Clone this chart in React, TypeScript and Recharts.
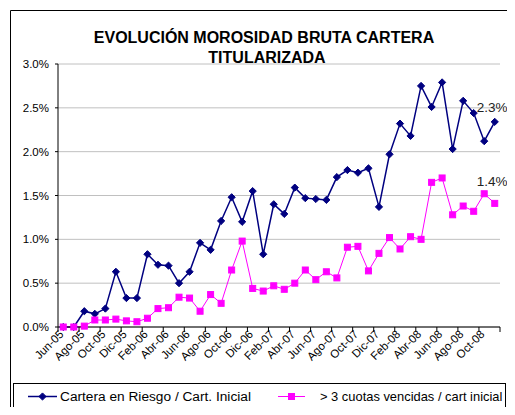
import React from 'react';
import { CartesianGrid, LabelList, Line, LineChart, XAxis, YAxis } from 'recharts';

const months = [
  'Jun-05', 'Jul-05', 'Ago-05', 'Sep-05', 'Oct-05', 'Nov-05', 'Dic-05',
  'Ene-06', 'Feb-06', 'Mar-06', 'Abr-06', 'May-06', 'Jun-06', 'Jul-06', 'Ago-06', 'Sep-06', 'Oct-06', 'Nov-06', 'Dic-06',
  'Ene-07', 'Feb-07', 'Mar-07', 'Abr-07', 'May-07', 'Jun-07', 'Jul-07', 'Ago-07', 'Sep-07', 'Oct-07', 'Nov-07', 'Dic-07',
  'Ene-08', 'Feb-08', 'Mar-08', 'Abr-08', 'May-08', 'Jun-08', 'Jul-08', 'Ago-08', 'Sep-08', 'Oct-08', 'Nov-08',
];

// Cartera en Riesgo / Cart. Inicial (%)
const carteraRiesgo = [
  0.0, 0.0, 0.18, 0.15, 0.21, 0.63, 0.33,
  0.33, 0.83, 0.71, 0.7, 0.5, 0.63, 0.96, 0.88, 1.21, 1.48, 1.2, 1.55,
  0.83, 1.4, 1.29, 1.59, 1.47, 1.46, 1.45, 1.71, 1.79, 1.76, 1.81, 1.37,
  1.97, 2.32, 2.18, 2.75, 2.51, 2.79, 2.03, 2.58, 2.44, 2.12, 2.34,
];

// > 3 cuotas vencidas / cart inicial (%)
const cuotasVencidas = [
  0.0, 0.0, 0.01, 0.08, 0.08, 0.09, 0.07,
  0.06, 0.1, 0.21, 0.22, 0.34, 0.33, 0.18, 0.37, 0.27, 0.65, 0.98, 0.44,
  0.41, 0.47, 0.43, 0.5, 0.65, 0.54, 0.63, 0.56, 0.91, 0.92, 0.64, 0.84,
  1.02, 0.89, 1.03, 1.0, 1.65, 1.7, 1.28, 1.38, 1.32, 1.52, 1.41,
];

const yTicks = [0, 0.5, 1, 1.5, 2, 2.5, 3];

const titleLines = ['EVOLUCIÓN MOROSIDAD BRUTA CARTERA', 'TITULARIZADA'];
const seriesNames = ['Cartera en Riesgo / Cart. Inicial', '> 3 cuotas vencidas / cart inicial'];

const data = months.map((m, i) => ({
  mes: m,
  riesgo: carteraRiesgo[i],
  vencidas: cuotasVencidas[i],
}));

const W = 499;
const H = 407;
const MARGIN = { top: 56, right: 7, bottom: 48, left: 0 };
const Y_AXIS_W = 50;
const PLOT_W = W - MARGIN.left - MARGIN.right - Y_AXIS_W;
const BAND = PLOT_W / months.length;

const FONT = 'Liberation Sans, Arial, sans-serif';
const BLUE = '#000080';
const PINK = '#FF00FF';

const Diamond = ({ cx, cy, r = 3.6 }: any) => (
  <polygon
    points={`${cx},${cy - r} ${cx + r},${cy} ${cx},${cy + r} ${cx - r},${cy}`}
    fill={BLUE}
    stroke={BLUE}
  />
);

const Square = ({ cx, cy, r = 3 }: any) => (
  <rect x={cx - r} y={cy - r} width={r * 2} height={r * 2} fill={PINK} stroke={PINK} />
);

const MonthTick = ({ x, y, payload }: any) => {
  const idx = months.indexOf(payload.value);
  const edge = x - BAND / 2;
  return (
    <g>
      <line x1={edge} x2={edge} y1={y} y2={y + 5} stroke="#000" />
      {idx === months.length - 2 && (
        <line x1={edge + BAND * 2} x2={edge + BAND * 2} y1={y} y2={y + 5} stroke="#000" />
      )}
      <text
        transform={`translate(${x + 1},${y + 8}) rotate(-45)`}
        textAnchor="end"
        fontSize={11.5}
        fontFamily={FONT}
        fill="#000"
      >
        {payload.value}
      </text>
    </g>
  );
};

// only the last point of each series gets its value printed
const endLabel = (dy: number) => (props: any) => {
  const { x, y, value, index } = props;
  if (index !== months.length - 1) return null;
  return (
    <text x={x - 18} y={y - dy} fontSize={13.5} fontFamily={FONT} fill="#222">
      {`${Number(value).toFixed(1)}%`}
    </text>
  );
};

export default function App() {
  return (
    <div
      style={{
        position: 'relative',
        width: W,
        height: H,
        marginBottom: -8,
        fontFamily: FONT,
      }}
    >
      <LineChart width={W} height={H} data={data} margin={MARGIN}>
        <CartesianGrid vertical={false} stroke="#c0c0c0" />
        <XAxis
          dataKey="mes"
          scale="point"
          padding={{ left: BAND / 2, right: BAND / 2 }}
          interval={1}
          height={40}
          tickLine={false}
          tickSize={0}
          tickMargin={0}
          axisLine={{ stroke: '#000' }}
          tick={<MonthTick />}
        />
        <YAxis
          width={Y_AXIS_W}
          domain={[0, 3]}
          ticks={yTicks}
          tickFormatter={(v: number) => `${v.toFixed(1)}%`}
          tickSize={3}
          tickMargin={6}
          axisLine={{ stroke: '#000' }}
          tickLine={{ stroke: '#000' }}
          tick={{ fontSize: 11.5, fill: '#000', fontFamily: FONT }}
        />
        <Line
          dataKey="riesgo"
          stroke={BLUE}
          strokeWidth={1.5}
          dot={(p: any) => <Diamond key={`d${p.index}`} cx={p.cx} cy={p.cy} />}
          isAnimationActive={false}
        >
          <LabelList dataKey="riesgo" content={endLabel(9.6)} />
        </Line>
        <Line
          dataKey="vencidas"
          stroke={PINK}
          strokeWidth={1}
          dot={(p: any) => <Square key={`s${p.index}`} cx={p.cx} cy={p.cy} />}
          isAnimationActive={false}
        >
          <LabelList dataKey="vencidas" content={endLabel(17.3)} />
        </Line>
      </LineChart>

      <svg
        width={W}
        height={H}
        style={{ position: 'absolute', left: 0, top: 0, pointerEvents: 'none' }}
      >
        <line x1={2.5} y1={2.5} x2={W} y2={2.5} stroke="#000" />
        <line x1={2.5} y1={2.5} x2={2.5} y2={H} stroke="#000" />
        <text x={256} y={35} textAnchor="middle" fontSize={16} fontWeight="bold" fontFamily={FONT} fill="#000">
          {titleLines[0]}
        </text>
        <text x={259} y={55} textAnchor="middle" fontSize={16} fontWeight="bold" fontFamily={FONT} fill="#000">
          {titleLines[1]}
        </text>

        <rect x={5.5} y={375.5} width={W - 7} height={25} fill="#fff" stroke="#000" />
        <line x1={20} x2={49} y1={388.5} y2={388.5} stroke={BLUE} strokeWidth={1.5} />
        <Diamond cx={34.5} cy={388.5} />
        <text x={52} y={393} fontSize={13.7} fontFamily={FONT} fill="#000">
          {seriesNames[0]}
        </text>
        <line x1={270} x2={297} y1={388.5} y2={388.5} stroke={PINK} />
        <Square cx={283.5} cy={388.5} />
        <text x={312} y={393} fontSize={12.9} fontFamily={FONT} fill="#000">
          {seriesNames[1]}
        </text>
      </svg>
    </div>
  );
}
